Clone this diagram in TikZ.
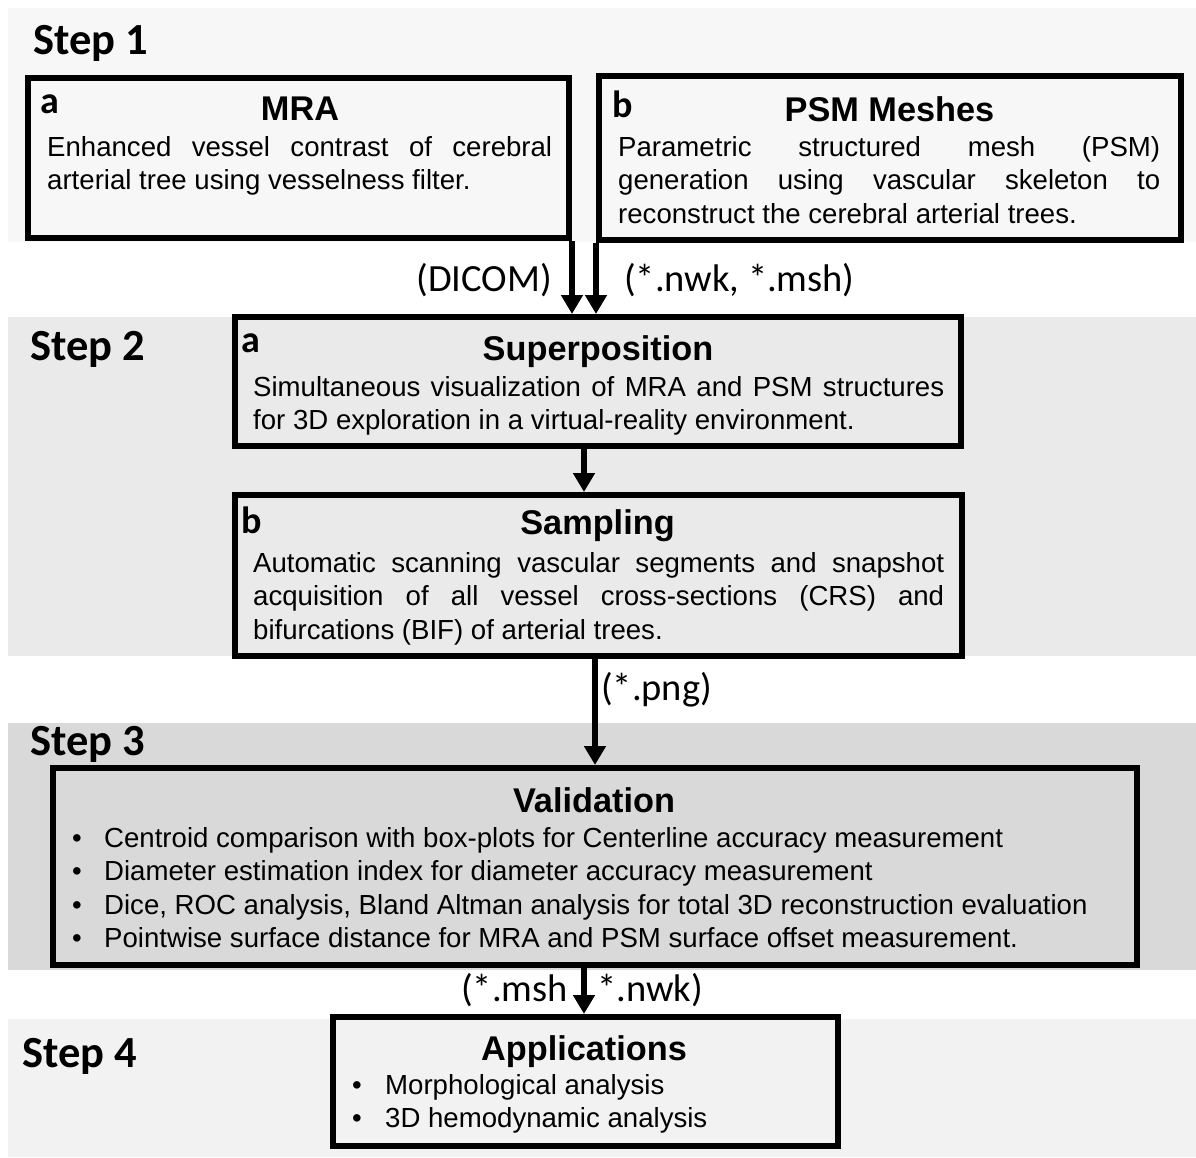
\documentclass[tikz,border=0pt]{standalone}
\usepackage{fontspec}
\setmainfont{Liberation Sans}
\newfontfamily\calfont{Carlito}
\usetikzlibrary{arrows.meta}
\definecolor{bandA}{HTML}{F7F7F7}
\definecolor{bandB}{HTML}{EAEAEA}
\definecolor{bandC}{HTML}{D9D9D9}
\definecolor{bandD}{HTML}{F2F2F2}
\tikzset{
  box/.style={draw=black, line width=6pt, inner sep=0pt, rectangle},
  arr/.style={line width=5.5pt, -{Triangle[length=19pt,width=21pt]}},
  steplbl/.style={anchor=base west, inner sep=0pt, font=\calfont\bfseries\fontsize{44.5}{48}\selectfont},
  letter/.style={anchor=base west, inner sep=0pt, font=\calfont\bfseries\fontsize{38}{40}\selectfont},
  ttl/.style={anchor=base, inner sep=0pt, font=\bfseries\fontsize{34.3}{36}\selectfont},
  body/.style={anchor=base west, inner sep=0pt, font=\fontsize{27.6}{33.5}\selectfont},
  lbl/.style={inner sep=0pt, font=\calfont\fontsize{38.5}{40}\selectfont},
}
\newcommand{\jline}[1]{\makebox[\linewidth][s]{#1}}
\newcommand{\bitem}[2]{\makebox[#1][l]{\textbullet}#2}
\begin{document}
\begin{tikzpicture}[x=1pt,y=-1pt]
\useasboundingbox (0,0) rectangle (1196,1157);
\fill[white] (0,0) rectangle (1196,1157);
% bands
\fill[bandA] (8,8) rectangle (1196,242);
\fill[bandB] (8,317) rectangle (1196,656);
\fill[bandC] (8,723) rectangle (1196,970);
\fill[bandD] (8,1019) rectangle (1196,1157);
% boxes
\node[box, fill=bandA, minimum width=541pt, minimum height=160pt] (mra) at (298.5,158) {};
\node[box, fill=bandA, minimum width=582pt, minimum height=164pt] (psm) at (890,158) {};
\node[box, fill=bandB, minimum width=726pt, minimum height=129pt] (sup) at (598,381.5) {};
\node[box, fill=bandB, minimum width=727pt, minimum height=161pt] (samp) at (598.5,575.5) {};
\node[box, fill=bandC, minimum width=1084pt, minimum height=197pt] (val) at (595,866.5) {};
\node[box, fill=bandD, minimum width=505pt, minimum height=129pt] (app) at (585.5,1081.5) {};
% step labels
\node[steplbl] (s1) at (33,54) {Step 1};
\node[steplbl] (s2) at (30,360) {Step 2};
\node[steplbl] (s3) at (30,755) {Step 3};
\node[steplbl] (s4) at (22,1067) {Step 4};
% MRA
\node[letter] (la1) at (40,113) {a};
\node[ttl] (tmra) at (300,120) {MRA};
\node[body] (bmra) at (47,156) {\parbox[t]{505pt}{\jline{Enhanced vessel contrast of cerebral}\\
arterial tree using vesselness filter.}};
% PSM
\node[letter] (lb1) at (612,117) {b};
\node[ttl] (tpsm) at (889.5,121) {PSM Meshes};
\node[body] (bpsm) at (618,156) {\parbox[t]{542pt}{\jline{Parametric structured mesh (PSM)}\\
\jline{generation using vascular skeleton to}\\
reconstruct the cerebral arterial trees.}};
% Superposition
\node[letter] (la2) at (241,352) {a};
\node[ttl] (tsup) at (598,360) {Superposition};
\node[body] (bsup) at (253,396) {\parbox[t]{691pt}{\jline{Simultaneous visualization of MRA and PSM structures}\\
for 3D exploration in a virtual-reality environment.}};
% Sampling
\node[letter] (lb2) at (241,533) {b};
\node[ttl] (tsamp) at (597.5,534) {Sampling};
\node[body] (bsamp) at (253,572) {\parbox[t]{691pt}{\jline{Automatic scanning vascular segments and snapshot}\\
\jline{acquisition of all vessel cross-sections (CRS) and}\\
bifurcations (BIF) of arterial trees.}};
% Validation
\node[ttl] (tval) at (594,812) {Validation};
\node[body] (bval) at (72,847) {\parbox[t]{1050pt}{\bitem{32pt}{Centroid comparison with box-plots for Centerline accuracy measurement}\\
\bitem{32pt}{Diameter estimation index for diameter accuracy measurement}\\
\bitem{32pt}{Dice, ROC analysis, Bland Altman analysis for total 3D reconstruction evaluation}\\
\bitem{32pt}{Pointwise surface distance for MRA and PSM surface offset measurement.}}};
% Applications
\node[ttl] (tapp) at (584,1060) {Applications};
\node[body] (bapp) at (352,1094) {\parbox[t]{480pt}{\bitem{33pt}{Morphological analysis}\\
\bitem{33pt}{3D hemodynamic analysis}}};
% connector labels
\node[lbl, anchor=base east] (ldicom) at (552,291) {(DICOM)};
\node[lbl, anchor=base west] (lnwk) at (624,291) {(*.nwk, *.msh)};
\node[lbl, anchor=base west] (lpng) at (601,700) {(*.png)};
\node[lbl, anchor=base east] (lmsh) at (568,1001) {(*.msh};
\node[lbl, anchor=base west] (lnwk2) at (597,1001) {*.nwk)};
% arrows
\draw[arr] (mra.south east) -- (mra.south east |- sup.north);
\draw[arr] (psm.south west) -- (psm.south west |- sup.north);
\draw[arr] ([xshift=-14pt]sup.south) -- ([xshift=-14pt]sup.south |- samp.north);
\draw[arr] ([xshift=-3.5pt]samp.south) -- ([xshift=-3.5pt]samp.south |- val.north);
\draw[arr] ([xshift=-11pt]val.south) -- ([xshift=-11pt]val.south |- app.north);
\end{tikzpicture}
\end{document}
